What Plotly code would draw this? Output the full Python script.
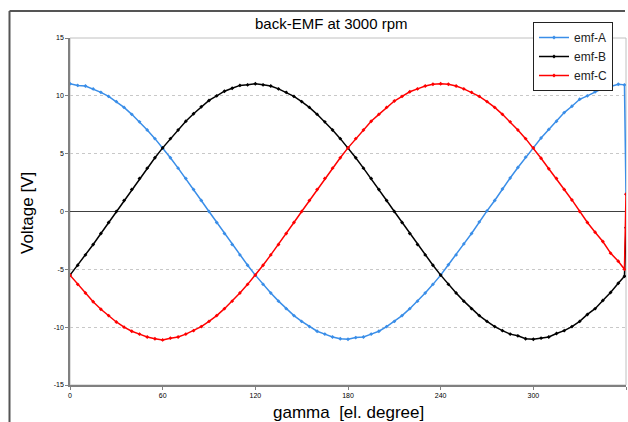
import plotly.graph_objects as go

gamma = list(range(0, 360, 5)) + [359, 360]

emf_a = [11.05, 10.9, 10.85, 10.6, 10.3, 9.95, 9.5, 9.0, 8.4, 7.75, 7.05, 6.3,
         5.5, 4.65, 3.75, 2.85, 1.9, 0.95, 0.0, -0.95, -1.9, -2.85, -3.75, -4.65,
         -5.5, -6.3, -7.05, -7.75, -8.4, -9.0, -9.5, -9.95, -10.35, -10.6, -10.85, -11.0,
         -11.05, -10.9, -10.85, -10.6, -10.35, -9.95, -9.5, -9.0, -8.4, -7.75, -7.05, -6.3,
         -5.5, -4.6, -3.75, -2.8, -1.9, -0.9, 0.05, 0.95, 1.95, 2.9, 3.8, 4.7,
         5.5, 6.35, 7.1, 7.8, 8.55, 9.1, 9.7, 10.0, 10.35, 10.65, 10.8, 11.0,
         10.95, 1.5]

emf_b = [-5.5, -4.65, -3.75, -2.85, -1.9, -0.95, 0.0, 0.95, 1.9, 2.85, 3.75, 4.65,
         5.5, 6.3, 7.05, 7.8, 8.45, 9.05, 9.6, 10.0, 10.4, 10.65, 10.9, 10.95,
         11.05, 10.95, 10.85, 10.6, 10.3, 9.95, 9.5, 9.0, 8.4, 7.75, 7.05, 6.3,
         5.5, 4.65, 3.75, 2.85, 1.9, 0.95, 0.0, -0.95, -1.9, -2.85, -3.75, -4.65,
         -5.5, -6.3, -7.05, -7.75, -8.4, -9.0, -9.5, -9.95, -10.3, -10.6, -10.75, -11.0,
         -11.05, -10.95, -10.85, -10.55, -10.3, -9.95, -9.5, -8.9, -8.4, -7.7, -7.0, -6.2,
         -5.6, -1.4]

emf_c = [-5.5, -6.3, -7.05, -7.8, -8.45, -9.0, -9.55, -10.0, -10.35, -10.6, -10.85, -11.0,
         -11.1, -10.95, -10.85, -10.6, -10.3, -9.95, -9.5, -9.0, -8.4, -7.75, -7.05, -6.3,
         -5.5, -4.65, -3.75, -2.85, -1.9, -0.95, 0.0, 0.95, 1.9, 2.85, 3.75, 4.65,
         5.5, 6.3, 7.05, 7.8, 8.4, 9.0, 9.55, 9.95, 10.35, 10.6, 10.85, 11.0,
         11.05, 11.0, 10.85, 10.6, 10.3, 9.95, 9.5, 9.0, 8.4, 7.75, 7.05, 6.3,
         5.5, 4.6, 3.7, 2.85, 1.9, 1.0, 0.0, -0.95, -1.8, -2.6, -3.6, -4.3,
         -5.0, 1.5]

x_ticks = [0, 60, 120, 180, 240, 300, 360]
y_ticks = [-15, -10, -5, 0, 5, 10, 15]

FONT = "Liberation Sans, Arial, sans-serif"
W, H = 628, 422
L, R, T, B = 70, 626, 38, 385
PW, PH = R - L, B - T


def px(x):
    return (x - L) / PW


def py(y):
    return (B - y) / PH


fig = go.Figure()
series = [("emf-A", emf_a, "#3a8ee8"), ("emf-B", emf_b, "#000000"), ("emf-C", emf_c, "#ff0000")]
for name, vals, col in series:
    fig.add_trace(go.Scatter(
        x=gamma, y=vals, name=name, mode="lines+markers",
        line=dict(color=col, width=1.5),
        marker=dict(color=col, size=3, symbol="diamond"),
    ))

fig.update_layout(
    width=W, height=H,
    paper_bgcolor="white", plot_bgcolor="white",
    margin=dict(l=L, r=W - R, t=T, b=H - B, pad=0, autoexpand=False),
    font=dict(family=FONT, color="#000000"),
    showlegend=True,
    legend=dict(
        x=px(533), y=py(22), xanchor="left", yanchor="top",
        bgcolor="white", bordercolor="#222222", borderwidth=1,
        font=dict(size=12, family=FONT, color="#222222"),
        tracegroupgap=0, itemwidth=30,
    ),
    xaxis=dict(
        range=[0, 360], tickmode="array", tickvals=x_ticks,
        ticktext=[str(v) for v in x_ticks], automargin=False,
        tickfont=dict(size=7), ticks="outside", ticklen=3, tickcolor="#808080",
        showgrid=False, zeroline=False,
        showline=True, linecolor="#808080", linewidth=1.5,
    ),
    yaxis=dict(
        range=[-15, 15], tickmode="array", tickvals=y_ticks,
        ticktext=[str(v) for v in y_ticks], automargin=False,
        tickfont=dict(size=7), ticks="outside", ticklen=3, tickcolor="#808080",
        showgrid=True, gridcolor="#c8c8c8", griddash="dot", gridwidth=1,
        zeroline=True, zerolinecolor="#404040", zerolinewidth=1,
        showline=True, linecolor="#808080", linewidth=1.5,
    ),
    shapes=[
        dict(type="rect", xref="paper", yref="paper", x0=0, x1=1, y0=0, y1=1,
             line=dict(color="#c0c0c0", width=1), layer="below"),
        dict(type="line", xref="paper", yref="paper",
             x0=px(9.5), x1=px(9.5), y0=py(11), y1=py(440),
             line=dict(color="#555555", width=2)),
        dict(type="line", xref="paper", yref="paper",
             x0=px(9.5), x1=px(625), y0=py(11), y1=py(11),
             line=dict(color="#555555", width=2)),
    ],
    annotations=[
        dict(text="back-EMF at 3000 rpm", xref="paper", yref="paper",
             x=px(331), y=py(24), xanchor="center", yanchor="middle",
             showarrow=False, font=dict(size=15, family=FONT, color="#000000")),
        dict(text="gamma  [el. degree]", xref="paper", yref="paper",
             x=px(348), y=py(412), xanchor="center", yanchor="middle",
             showarrow=False, font=dict(size=17, family=FONT, color="#000000")),
        dict(text="Voltage [V]", xref="paper", yref="paper", textangle=-90,
             x=px(27), y=py(213), xanchor="center", yanchor="middle",
             showarrow=False, font=dict(size=17, family=FONT, color="#000000")),
    ],
)

fig.write_html(
    "out.html",
    config={"displayModeBar": False},
    post_script="document.body.style.margin='0';document.body.style.overflow='hidden';",
)
